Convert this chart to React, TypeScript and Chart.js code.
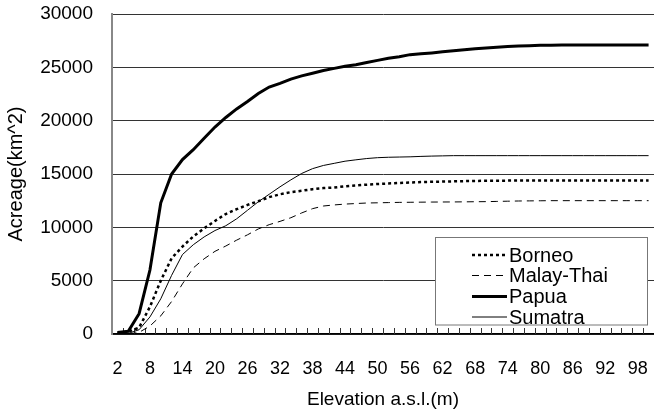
import React, { useEffect, useRef } from "react";
import { Chart, registerables } from "chart.js";

Chart.register(...registerables);

const elevations = [
  2, 4, 6, 8, 10, 12, 14, 16, 18, 20, 22, 24, 26, 28, 30, 32, 34, 36, 38, 40,
  42, 44, 46, 48, 50, 52, 54, 56, 58, 60, 62, 64, 66, 68, 70, 72, 74, 76, 78, 80,
  82, 84, 86, 88, 90, 92, 94, 96, 98, 100,
];

const borneo = [
  100, 200, 600, 2550, 5000, 7100, 8200, 9150, 9900, 10600, 11250, 11700, 12100, 12450, 12830, 13100, 13300, 13430, 13580, 13680,
  13730, 13850, 13930, 14000, 14060, 14110, 14160, 14200, 14240, 14270, 14290, 14310, 14330, 14350, 14360, 14370, 14380, 14390, 14400, 14400,
  14400, 14400, 14400, 14400, 14400, 14400, 14400, 14400, 14400, 14400,
];

const malayThai = [
  0, 0, 150, 750, 1700, 3050, 4700, 6200, 7050, 7750, 8250, 8800, 9300, 9850, 10250, 10560, 10900, 11350, 11750, 12000,
  12100, 12180, 12230, 12280, 12300, 12320, 12340, 12350, 12360, 12370, 12375, 12380, 12390, 12400, 12410, 12430, 12450, 12470, 12480, 12490,
  12500, 12500, 12500, 12500, 12500, 12500, 12500, 12500, 12500, 12500,
];

const papua = [
  150, 250, 1900, 6000, 12300, 15000, 16350, 17280, 18350, 19400, 20300, 21100, 21800, 22550, 23150, 23500, 23900, 24200, 24450, 24700,
  24900, 25100, 25250, 25450, 25650, 25850, 26000, 26190, 26270, 26350, 26450, 26550, 26650, 26750, 26820, 26880, 26950, 26990, 27030, 27060,
  27080, 27100, 27100, 27100, 27100, 27100, 27100, 27100, 27100, 27100,
];

const sumatra = [
  0, 50, 400, 1600, 3300, 5500, 7450, 8370, 9100, 9700, 10150, 10800, 11600, 12400, 13100, 13800, 14450, 15050, 15500, 15800,
  16000, 16200, 16330, 16450, 16530, 16570, 16590, 16610, 16650, 16680, 16700, 16720, 16720, 16720, 16720, 16720, 16720, 16720, 16720, 16720,
  16720, 16720, 16720, 16720, 16720, 16720, 16720, 16720, 16720, 16720,
];

const seriesNames = ["Borneo", "Malay-Thai", "Papua", "Sumatra"];
const yTitle = "Acreage(km^2)";
const xTitle = "Elevation a.s.l.(m)";
const labelEvery = 3;

const FONT = "'Liberation Sans', Arial, sans-serif";

const insideTicks = {
  id: "insideTicks",
  beforeDatasetsDraw(chart: any) {
    const x = chart.scales.x;
    const ctx = chart.ctx;
    const n = chart.data.labels.length;
    const half = (x.getPixelForValue(1) - x.getPixelForValue(0)) / 2;
    const bottom = chart.chartArea.bottom;
    ctx.save();
    ctx.strokeStyle = "#333";
    ctx.lineWidth = 1;
    ctx.beginPath();
    for (let i = 1; i <= n; i++) {
      const px = Math.round(x.getPixelForValue(i - 1) + half) + 0.5;
      ctx.moveTo(px, bottom);
      ctx.lineTo(px, bottom - 6);
    }
    ctx.stroke();
    ctx.restore();
  },
};

const boxLegend = {
  id: "boxLegend",
  afterDatasetsDraw(chart: any) {
    const ctx = chart.ctx;
    const left = 435.5, top = 237.5, w = 212, h = 87.5;
    ctx.save();
    ctx.fillStyle = "#fff";
    ctx.fillRect(left, top, w, h);
    ctx.strokeStyle = "#777";
    ctx.lineWidth = 1;
    ctx.strokeRect(left, top, w, h);
    const rowY = [255, 275.5, 296.5, 317];
    chart.data.datasets.forEach((ds: any, i: number) => {
      const y = rowY[i];
      ctx.beginPath();
      ctx.strokeStyle = ds.borderColor;
      ctx.lineWidth = ds.borderWidth;
      ctx.setLineDash(ds.borderDash || []);
      ctx.moveTo(472, y);
      ctx.lineTo(507, y);
      ctx.stroke();
      ctx.setLineDash([]);
      ctx.fillStyle = "#000";
      ctx.font = `20px ${FONT}`;
      ctx.textBaseline = "middle";
      ctx.textAlign = "left";
      ctx.fillText(ds.label, 509, y + 1);
    });
    ctx.restore();
  },
};

export default function App() {
  const ref = useRef<HTMLCanvasElement | null>(null);

  useEffect(() => {
    if (!ref.current) return;
    const chart = new Chart(ref.current, {
      type: "line",
      data: {
        labels: elevations.map(String),
        datasets: [
          { label: seriesNames[0], data: borneo, borderColor: "#000", borderWidth: 2.5, borderDash: [3, 3], pointRadius: 0, fill: false },
          { label: seriesNames[1], data: malayThai, borderColor: "#000", borderWidth: 1, borderDash: [7, 5], pointRadius: 0, fill: false },
          { label: seriesNames[2], data: papua, borderColor: "#000", borderWidth: 3, pointRadius: 0, fill: false },
          { label: seriesNames[3], data: sumatra, borderColor: "#000", borderWidth: 1, pointRadius: 0, fill: false },
        ],
      },
      options: {
        responsive: false,
        animation: false,
        devicePixelRatio: 1,
        layout: { padding: { top: 14, left: 0, right: 0, bottom: 0 }, autoPadding: false },
        plugins: { legend: { display: false }, tooltip: { enabled: false } },
        elements: { line: { tension: 0 } },
        scales: {
          x: {
            type: "category",
            offset: true,
            grid: { display: false, drawTicks: false },
            border: { display: true, color: "#000", width: 1.5 },
            ticks: {
              autoSkip: false,
              maxRotation: 0,
              padding: 24,
              color: "#000",
              font: { family: FONT, size: 18 },
              callback: (_v: any, i: number) => (i % labelEvery === 0 ? elevations[i] : ""),
            },
            title: {
              display: true,
              text: xTitle,
              color: "#000",
              font: { family: FONT, size: 19 },
              padding: { top: 0, bottom: 5 },
            },
            afterFit: (s: any) => {
              s.height = 82;
              s.paddingLeft = 0;
              s.paddingRight = 0;
            },
          },
          y: {
            min: 0,
            max: 30000,
            grid: { color: "#333", lineWidth: 1, drawTicks: false },
            border: { display: true, color: "#888", width: 2 },
            ticks: {
              stepSize: 5000,
              padding: 19,
              color: "#000",
              font: { family: FONT, size: 19 },
              callback: (v: any) => String(v),
            },
            title: {
              display: true,
              text: yTitle,
              color: "#000",
              font: { family: FONT, size: 20 },
              padding: { top: 4, bottom: 0 },
            },
            afterFit: (s: any) => {
              s.width = 112;
              s.paddingTop = 0;
              s.paddingBottom = 0;
            },
          },
        },
      },
      plugins: [insideTicks, boxLegend],
    });
    return () => chart.destroy();
  }, []);

  return (
    <div style={{ position: "absolute", left: 0, top: 0, width: 654, height: 416, background: "#fff" }}>
      <canvas ref={ref} width={654} height={416} style={{ display: "block" }} />
    </div>
  );
}
